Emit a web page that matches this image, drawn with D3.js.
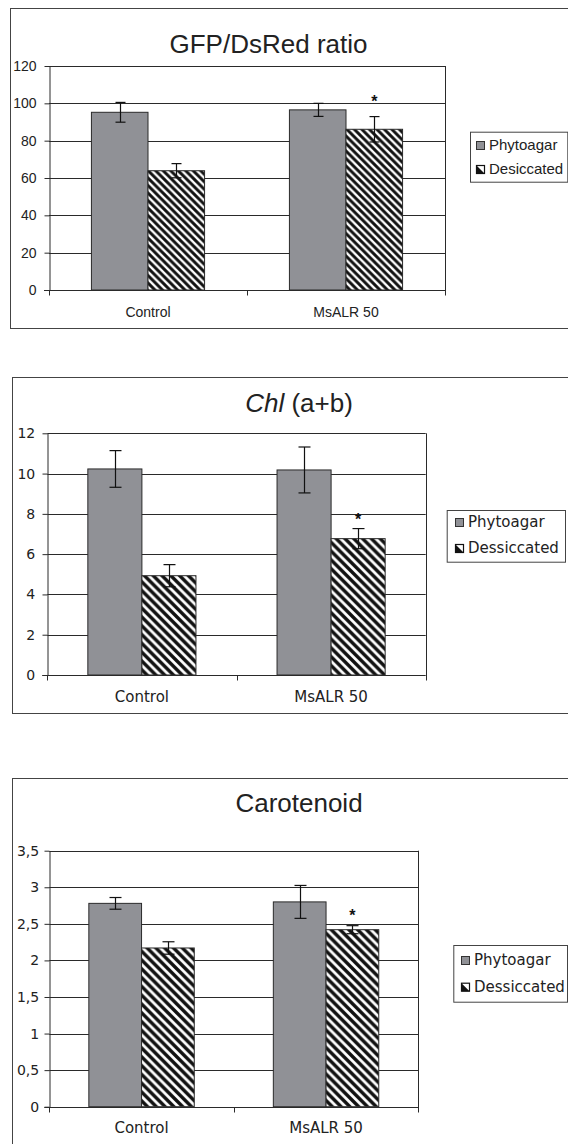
<!DOCTYPE html>
<html>
<head>
<meta charset="utf-8">
<script src="https://cdn.jsdelivr.net/npm/d3@7"></script>
<style>
  html, body { margin: 0; padding: 0; background: #fff; }
  svg { display: block; }
</style>
</head>
<body>
<svg id="chart" width="568" height="1144"></svg>
<script>
// ---------- DATA ----------
const categories = ["Control", "MsALR 50"];
const seriesKeys = ["Phytoagar", "Desiccated"];

const gfpLegend = ["Phytoagar", "Desiccated"];
const gfpPhytoagar = [95.2, 96.5];
const gfpPhytoagarErr = [5.3, 3.5];
const gfpDesiccated = [63.9, 86.1];
const gfpDesiccatedErr = [3.8, 6.8];
const gfpTicks = [0, 20, 40, 60, 80, 100, 120];
const gfpTickLabels = ["0", "20", "40", "60", "80", "100", "120"];

const chlLegend = ["Phytoagar", "Dessiccated"];
const chlPhytoagar = [10.23, 10.18];
const chlPhytoagarErr = [0.91, 1.14];
const chlDesiccated = [4.93, 6.77];
const chlDesiccatedErr = [0.55, 0.5];
const chlTicks = [0, 2, 4, 6, 8, 10, 12];
const chlTickLabels = ["0", "2", "4", "6", "8", "10", "12"];

const carLegend = ["Phytoagar", "Dessiccated"];
const carPhytoagar = [2.78, 2.80];
const carPhytoagarErr = [0.08, 0.225];
const carDesiccated = [2.17, 2.42];
const carDesiccatedErr = [0.085, 0.055];
const carTicks = [0, 0.5, 1, 1.5, 2, 2.5, 3, 3.5];
const carTickLabels = ["0", "0,5", "1", "1,5", "2", "2,5", "3", "3,5"];

// significance marks: [category index, series index]
const significant = [[1, 1]];

// ---------- LAYOUT ----------
const svg = d3.select("#chart");
const defs = svg.append("defs");

const panels = [
  {
    id: "p1", title: [{t: "GFP/DsRed ratio", italic: false}],
    legend: gfpLegend, values: [gfpPhytoagar, gfpDesiccated], errs: [gfpPhytoagarErr, gfpDesiccatedErr],
    ticks: gfpTicks, tickLabels: gfpTickLabels,
    box: {x: 10, y: 8, bottom: 328},
    plot: {left: 49, right: 445, top: 66, bottom: 290},
    titlePos: {x: 268.5, y: 53, size: 26},
    leg: {x: 470, y: 131.7, w: 97.3, h: 50, tx: 489, b1: 150, b2: 174, size: 15},
    font: "'Liberation Sans', Arial, sans-serif", tickSize: 14, catSize: 14, catY: 316.7, tickRight: 36,
    capW: 10, period: 7.5, astGap: 19
  },
  {
    id: "p2", title: [{t: "Chl", italic: true}, {t: " (a+b)", italic: false}],
    legend: chlLegend, values: [chlPhytoagar, chlDesiccated], errs: [chlPhytoagarErr, chlDesiccatedErr],
    ticks: chlTicks, tickLabels: chlTickLabels,
    box: {x: 12, y: 377, bottom: 713},
    plot: {left: 47.3, right: 425.7, top: 433.3, bottom: 675},
    titlePos: {x: 299, y: 411.7, size: 26},
    leg: {x: 446.7, y: 510, w: 118.3, h: 51.7, tx: 468, b1: 527, b2: 553, size: 15},
    font: "'DejaVu Sans', sans-serif", tickSize: 14, catSize: 15, catY: 701.7, tickRight: 35,
    capW: 12, period: 8.8, astGap: 13
  },
  {
    id: "p3", title: [{t: "Carotenoid", italic: false}],
    legend: carLegend, values: [carPhytoagar, carDesiccated], errs: [carPhytoagarErr, carDesiccatedErr],
    ticks: carTicks, tickLabels: carTickLabels,
    box: {x: 12, y: 778, bottom: 1160},
    plot: {left: 49.3, right: 418.3, top: 850.7, bottom: 1106.7},
    titlePos: {x: 299, y: 811.7, size: 26},
    leg: {x: 453.3, y: 945, w: 113.7, h: 56.7, tx: 474, b1: 965, b2: 991.7, size: 15},
    font: "'DejaVu Sans', sans-serif", tickSize: 14, catSize: 15, catY: 1133, tickRight: 39,
    capW: 12, period: 8.8, astGap: 14
  }
];

const barGray = "#909196";
const lineCol = "#2a2a2a";
const textCol = "#222";

panels.forEach(p => {
  // hatch pattern
  const per = p.period, sw = per / Math.SQRT2 * 0.55;
  const pat = defs.append("pattern")
    .attr("id", "hatch-" + p.id)
    .attr("patternUnits", "userSpaceOnUse")
    .attr("width", per).attr("height", per);
  pat.append("rect").attr("width", per).attr("height", per).attr("fill", "#fff");
  pat.append("path")
    .attr("d", `M${-sw},${-sw}L${per + sw},${per + sw}M${per - sw},${-sw}L${per + sw},${sw}M${-sw},${per - sw}L${sw},${per + sw}`)
    .attr("stroke", "#111").attr("stroke-width", sw).attr("stroke-linecap", "square");

  const g = svg.append("g");

  // outer frame
  g.append("rect")
    .attr("x", p.box.x + 0.5).attr("y", p.box.y + 0.5)
    .attr("width", 600).attr("height", p.box.bottom - p.box.y)
    .attr("fill", "none").attr("stroke", "#444").attr("stroke-width", 1);

  // title
  const tt = g.append("text")
    .attr("x", p.titlePos.x).attr("y", p.titlePos.y)
    .attr("text-anchor", "middle")
    .attr("font-family", "'Liberation Sans', Arial, sans-serif")
    .attr("font-size", p.titlePos.size).attr("fill", textCol);
  p.title.forEach(part => {
    tt.append("tspan").text(part.t).attr("font-style", part.italic ? "italic" : "normal");
  });

  // scales
  const y = d3.scaleLinear()
    .domain([d3.min(p.ticks), d3.max(p.ticks)])
    .range([p.plot.bottom, p.plot.top]);
  const x0 = d3.scaleBand().domain(categories).range([p.plot.left, p.plot.right]).padding(0);
  const bw = x0.bandwidth();
  const groupW = bw * 2 / 3.5;
  const x1 = d3.scaleBand().domain(seriesKeys).range([0, groupW]).padding(0);

  // gridlines
  g.append("g").selectAll("line").data(p.ticks.filter(t => t !== 0)).join("line")
    .attr("x1", p.plot.left).attr("x2", p.plot.right)
    .attr("y1", d => Math.round(y(d)) + 0.5).attr("y2", d => Math.round(y(d)) + 0.5)
    .attr("stroke", lineCol).attr("stroke-width", 1);

  // right border of plot area
  g.append("line")
    .attr("x1", Math.round(p.plot.right) + 0.5).attr("x2", Math.round(p.plot.right) + 0.5)
    .attr("y1", p.plot.top).attr("y2", p.plot.bottom + 5)
    .attr("stroke", lineCol).attr("stroke-width", 1);

  // bars
  seriesKeys.forEach((s, si) => {
    g.append("g").selectAll("rect").data(categories).join("rect")
      .attr("x", c => x0(c) + (bw - groupW) / 2 + x1(s))
      .attr("y", (c, ci) => y(p.values[si][ci]))
      .attr("width", x1.bandwidth())
      .attr("height", (c, ci) => y(0) - y(p.values[si][ci]))
      .attr("fill", si === 0 ? barGray : `url(#hatch-${p.id})`)
      .attr("stroke", "#2a2a2a").attr("stroke-width", 1);
  });

  // error bars
  seriesKeys.forEach((s, si) => {
    categories.forEach((c, ci) => {
      const cx = Math.round(x0(c) + (bw - groupW) / 2 + x1(s) + x1.bandwidth() / 2) + 0.5;
      const v = p.values[si][ci], e = p.errs[si][ci];
      const yt = y(v + e), yb = y(v - e);
      const eg = g.append("g").attr("stroke", "#111").attr("stroke-width", 1.2);
      eg.append("line").attr("x1", cx).attr("x2", cx).attr("y1", yt).attr("y2", yb);
      eg.append("line").attr("x1", cx - p.capW / 2).attr("x2", cx + p.capW / 2).attr("y1", yt).attr("y2", yt);
      eg.append("line").attr("x1", cx - p.capW / 2).attr("x2", cx + p.capW / 2).attr("y1", yb).attr("y2", yb);
    });
  });

  // significance asterisks
  significant.forEach(([ci, si]) => {
    const c = categories[ci], s = seriesKeys[si];
    const cx = x0(c) + (bw - groupW) / 2 + x1(s) + x1.bandwidth() / 2;
    const cy = y(p.values[si][ci] + p.errs[si][ci]) - p.astGap;
    g.append("text").attr("x", cx).attr("y", cy + 9)
      .attr("text-anchor", "middle")
      .attr("font-family", "'Liberation Sans', Arial, sans-serif")
      .attr("font-weight", "bold").attr("font-size", 16).attr("fill", "#111")
      .text("*");
  });

  // y axis
  const yAxis = d3.axisLeft(y)
    .tickValues(p.ticks)
    .tickFormat((d, i) => p.tickLabels[i])
    .tickSize(5)
    .tickPadding(p.plot.left - 5 - p.tickRight)
    .tickSizeOuter(0);
  const ya = g.append("g").attr("transform", `translate(${Math.round(p.plot.left) + 0.5},0)`).call(yAxis);
  ya.select(".domain").attr("stroke", lineCol);
  ya.selectAll(".tick line").attr("stroke", lineCol);
  ya.selectAll(".tick text")
    .attr("font-family", p.font).attr("font-size", p.tickSize).attr("fill", textCol);

  // x axis line
  const yb0 = Math.round(y(0)) + 0.5;
  g.append("line").attr("x1", p.plot.left - 5).attr("x2", p.plot.right)
    .attr("y1", yb0).attr("y2", yb0).attr("stroke", lineCol);
  // x ticks at category boundaries
  const bounds = categories.map(c => x0(c)).concat([x0(categories[categories.length - 1]) + bw]);
  g.append("g").selectAll("line").data(bounds).join("line")
    .attr("x1", d => Math.round(d) + 0.5).attr("x2", d => Math.round(d) + 0.5)
    .attr("y1", yb0).attr("y2", yb0 + 5).attr("stroke", lineCol);
  // category labels
  g.append("g").selectAll("text").data(categories).join("text")
    .attr("x", c => x0(c) + bw / 2).attr("y", p.catY)
    .attr("text-anchor", "middle")
    .attr("font-family", p.font).attr("font-size", p.catSize).attr("fill", textCol)
    .text(c => c);

  // legend
  const L = p.leg;
  g.append("rect").attr("x", L.x + 0.5).attr("y", L.y + 0.5).attr("width", L.w).attr("height", L.h)
    .attr("fill", "#fff").attr("stroke", "#444");
  [L.b1, L.b2].forEach((b, i) => {
    const sx = L.tx - 13, sy = b - 9;
    if (i === 0) {
      g.append("rect").attr("x", sx + 0.5).attr("y", sy + 0.5).attr("width", 8).attr("height", 8)
        .attr("fill", barGray).attr("stroke", "#333");
    } else {
      g.append("rect").attr("x", sx + 0.5).attr("y", sy + 0.5).attr("width", 8).attr("height", 8)
        .attr("fill", "#fff").attr("stroke", "#111").attr("stroke-width", 1.2);
      g.append("path").attr("d", `M${sx + 1},${sy + 1}L${sx + 8.5},${sy + 8.5}L${sx + 1},${sy + 8.5}Z`)
        .attr("fill", "#111");
    }
    g.append("text").attr("x", L.tx).attr("y", b)
      .attr("font-family", p.font).attr("font-size", L.size).attr("fill", textCol)
      .text(p.legend[i]);
  });
});
</script>
</body>
</html>
